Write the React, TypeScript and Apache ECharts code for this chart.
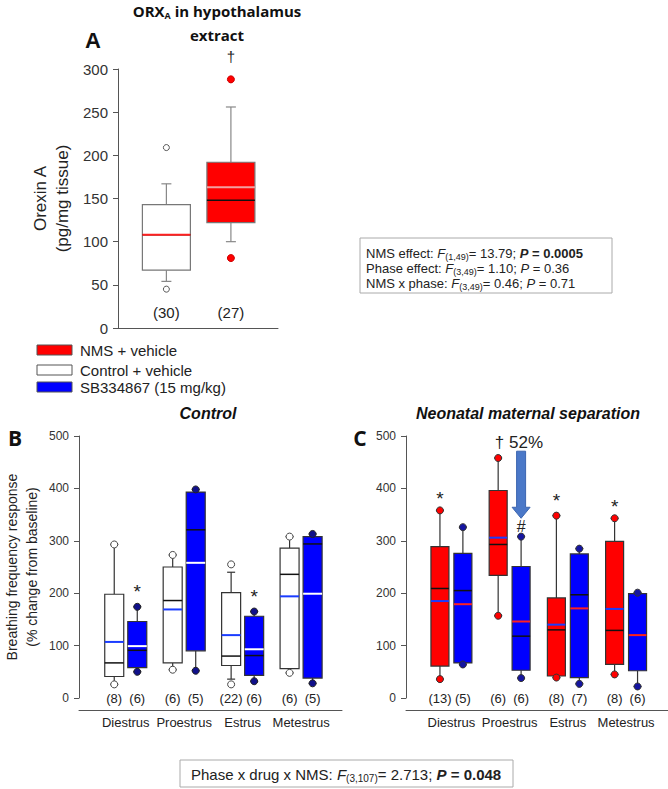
import React, { useEffect, useRef } from "react";
import * as echarts from "echarts";

// ---------- DATA ----------
const cats = ["Diestrus", "Proestrus", "Estrus", "Metestrus"];

// Panel A: [Control + vehicle, NMS + vehicle]
const aWhiskLo = [54, 100];
const aQ1 = [67, 122];
const aMed = [108, 148];
const aQ3 = [143, 192];
const aWhiskHi = [167, 256];
const aMean = [108, 163];
const aN = [30, 27];
const aCtrlOutliers = [45, 209];
const aNmsOutliers = [81, 288];

// Panel B (Control) vehicle (white) and SB334867 (blue)
const bVehLo = [26, 54, 36, 48];
const bVehQ1 = [41, 67, 62, 56];
const bVehMed = [67, 186, 80, 236];
const bVehQ3 = [198, 250, 201, 286];
const bVehHi = [293, 273, 240, 308];
const bVehMean = [107, 169, 120, 194];
const bVehN = [8, 6, 22, 6];
const bVehPts = [[26, 293], [54, 273], [26, 255], [48, 308]];

const bSbLo = [50, 52, 32, 28];
const bSbQ1 = [58, 90, 43, 38];
const bSbMed = [91, 321, 81, 294];
const bSbQ3 = [146, 393, 156, 308];
const bSbHi = [174, 398, 165, 313];
const bSbMean = [99, 258, 93, 199];
const bSbN = [6, 5, 6, 5];
const bSbPts = [[50, 174], [52, 398], [32, 165], [28, 313]];

// Panel C (NMS) vehicle (red) and SB334867 (blue)
const cVehLo = [36, 157, 39, 45];
const cVehQ1 = [61, 234, 42, 64];
const cVehMed = [209, 293, 130, 129];
const cVehQ3 = [289, 396, 191, 299];
const cVehHi = [358, 458, 348, 343];
const cVehMean = [185, 306, 140, 170];
const cVehN = [13, 6, 8, 8];

const cSbLo = [64, 38, 27, 22];
const cSbQ1 = [67, 53, 39, 52];
const cSbMed = [205, 118, 197, 120];
const cSbQ3 = [276, 251, 275, 199];
const cSbHi = [326, 308, 285, 201];
const cSbMean = [179, 146, 171, 120];
const cSbN = [5, 6, 7, 6];

// annotations: [category, value]
const bSbStars = [[0, 204], [2, 194]];
const cVehStars = [[0, 380], [2, 376], [3, 366]];
const cSbHash = [[1, 327]];
const cDaggerText = [[1, 487]];
const cArrow = [[1, 471, 343]];
const aDagger = [[1, 315]];

const OFF = 0.197;
const FONT = "Liberation Sans";

function buildRows(lo, q1, med, q3, hi, mean, n, shift) {
  return lo.map((_, i) => [i + shift, lo[i], q1[i], med[i], q3[i], hi[i], mean[i], n[i]]);
}

function boxSeries(idx, rows, st) {
  return {
    type: "custom",
    xAxisIndex: idx,
    yAxisIndex: idx,
    clip: false,
    data: rows,
    renderItem: (params, api) => {
      const x = api.value(0);
      const c = (v) => api.coord([x, v]);
      const lo = c(api.value(1));
      const q1 = c(api.value(2));
      const med = c(api.value(3));
      const q3 = c(api.value(4));
      const hi = c(api.value(5));
      const mean = c(api.value(6));
      const lab = c(st.nY);
      const cx = lo[0];
      const hw = st.hw;
      const ch = st.capHw;
      const fill = st.fill(params.dataIndex);
      const children = [
        { type: "line", shape: { x1: cx, y1: q3[1], x2: cx, y2: hi[1] }, style: { stroke: st.whisk, lineWidth: 1.2 } },
        { type: "line", shape: { x1: cx, y1: q1[1], x2: cx, y2: lo[1] }, style: { stroke: st.whisk, lineWidth: 1.2 } },
        { type: "line", shape: { x1: cx - ch, y1: hi[1], x2: cx + ch, y2: hi[1] }, style: { stroke: st.whisk, lineWidth: 1.2 } },
        { type: "line", shape: { x1: cx - ch, y1: lo[1], x2: cx + ch, y2: lo[1] }, style: { stroke: st.whisk, lineWidth: 1.2 } },
        { type: "rect", shape: { x: cx - hw, y: q3[1], width: 2 * hw, height: q1[1] - q3[1] }, style: { fill, stroke: st.stroke, lineWidth: 1.2 } },
        { type: "line", shape: { x1: cx - hw, y1: med[1], x2: cx + hw, y2: med[1] }, style: { stroke: st.medColor, lineWidth: 1.5 } },
        { type: "line", shape: { x1: cx - hw, y1: mean[1], x2: cx + hw, y2: mean[1] }, style: { stroke: st.meanColor(params.dataIndex), lineWidth: 2 } },
        {
          type: "text",
          style: {
            x: cx, y: lab[1], text: "(" + api.value(7) + ")",
            textAlign: "center", textVerticalAlign: "middle",
            fontSize: st.nSize, fontFamily: FONT, fill: "#222",
          },
        },
      ];
      return { type: "group", children };
    },
  };
}

function pointSeries(idx, pts, shift, color, border, size) {
  const data = [];
  pts.forEach((p, i) => p.forEach((v) => data.push([i + shift, v])));
  return {
    type: "scatter",
    xAxisIndex: idx,
    yAxisIndex: idx,
    symbol: "circle",
    symbolSize: size,
    data,
    z: 5,
    itemStyle: { color, borderColor: border, borderWidth: 1, opacity: 1 },
  };
}

function textSeries(idx, pts, shift, text, size) {
  return {
    type: "custom",
    xAxisIndex: idx,
    yAxisIndex: idx,
    clip: false,
    z: 6,
    data: pts.map((p) => [p[0] + shift, p[1]]),
    renderItem: (params, api) => {
      const p = api.coord([api.value(0), api.value(1)]);
      return {
        type: "text",
        style: {
          x: p[0], y: p[1], text, textAlign: "center", textVerticalAlign: "middle",
          fontSize: size, fontFamily: FONT, fill: "#222",
        },
      };
    },
  };
}

function arrowSeries(idx, rows, shift) {
  return {
    type: "custom",
    xAxisIndex: idx,
    yAxisIndex: idx,
    clip: false,
    z: 6,
    data: rows.map((r) => [r[0] + shift, r[1], r[2]]),
    renderItem: (params, api) => {
      const top = api.coord([api.value(0), api.value(1)]);
      const tip = api.coord([api.value(0), api.value(2)]);
      const cx = top[0];
      const hb = tip[1] - 11;
      return {
        type: "polygon",
        shape: {
          points: [
            [cx - 4.5, top[1]], [cx + 4.5, top[1]], [cx + 4.5, hb], [cx + 9, hb],
            [cx, tip[1]], [cx - 9, hb], [cx - 4.5, hb],
          ],
        },
        style: { fill: "#4a78c8", stroke: "#3c66b0", lineWidth: 1 },
      };
    },
  };
}

function yAx(grid, max, interval, labelSize, name, nameGap, nameSize, lh) {
  return {
    gridIndex: grid,
    type: "value",
    min: 0,
    max,
    interval,
    axisLine: { show: true, onZero: false, lineStyle: { color: "#555", width: 1 } },
    axisTick: { show: true, length: 5, lineStyle: { color: "#555" } },
    axisLabel: { fontSize: labelSize, color: "#333", margin: 10, fontFamily: FONT },
    splitLine: { show: false },
    name,
    nameLocation: "middle",
    nameGap,
    nameTextStyle: { fontSize: nameSize, lineHeight: lh, color: "#222", fontFamily: FONT },
  };
}

function xAxCat(grid, min, max) {
  return {
    gridIndex: grid,
    type: "value",
    min,
    max,
    offset: 12,
    axisLine: { show: true, onZero: false, lineStyle: { color: "#555" } },
    axisTick: { show: false },
    splitLine: { show: false },
    axisLabel: {
      customValues: [0, 1, 2, 3],
      formatter: (v) => cats[Math.round(v)] || "",
      fontSize: 13,
      margin: 6,
      color: "#222",
      fontFamily: FONT,
    },
  };
}

const richStats = (size, lh, sub, subLh) => ({
  n: { fontSize: size, lineHeight: lh, fontFamily: FONT, fill: "#222" },
  i: { fontSize: size, lineHeight: lh, fontStyle: "italic", fontFamily: FONT, fill: "#222" },
  b: { fontSize: size, lineHeight: lh, fontWeight: "bold", fontFamily: FONT, fill: "#222" },
  bi: { fontSize: size, lineHeight: lh, fontWeight: "bold", fontStyle: "italic", fontFamily: FONT, fill: "#222" },
  s: { fontSize: sub, lineHeight: subLh, verticalAlign: "bottom", fontFamily: FONT, fill: "#222" },
});

export default function App() {
  const ref = useRef(null);
  useEffect(() => {
    document.body.style.margin = "0";
    const chart = echarts.init(ref.current, null, { renderer: "svg", width: 668, height: 789 });

    const aRows = aWhiskLo.map((_, i) => [i, aWhiskLo[i], aQ1[i], aMed[i], aQ3[i], aWhiskHi[i], aMean[i], aN[i]]);
    const g = (left, top, width, height) => ({ left, top, width, height, containLabel: false, outerBoundsMode: "none" });

    const option = {
      animation: false,
      textStyle: { fontFamily: FONT },
      grid: [g(118, 69, 160, 259), g(79, 436, 263, 262), g(406, 436, 262, 262)],
      xAxis: [
        {
          gridIndex: 0, type: "value", min: -0.75, max: 1.73,
          axisLine: { show: true, onZero: false, lineStyle: { color: "#555" } },
          axisTick: { show: false }, axisLabel: { show: false }, splitLine: { show: false },
        },
        xAxCat(1, -0.8, 3.7),
        xAxCat(2, -0.78, 3.72),
      ],
      yAxis: [
        yAx(0, 300, 50, 15, "Orexin A\n(pg/mg tissue)", 45, 17, 22),
        yAx(1, 500, 100, 12, "Breathing frequency response\n(% change from baseline)", 37, 14, 20),
        yAx(2, 500, 100, 12, "", 40, 12, 14),
      ],
      graphic: [
        {
          type: "text",
          style: {
            x: 217, y: 11, text: "{b|ORX}{s|A}{b| in hypothalamus}",
            textAlign: "center", textVerticalAlign: "middle",
            rich: {
              b: { fontSize: 15, fontWeight: "bold", fontFamily: "Open Sans", lineHeight: 17, fill: "#111" },
              s: { fontSize: 9, fontWeight: "bold", fontFamily: "Open Sans", lineHeight: 10, verticalAlign: "bottom", fill: "#111" },
            },
          },
        },
        {
          type: "text",
          style: {
            x: 217, y: 35, text: "extract", textAlign: "center", textVerticalAlign: "middle",
            fontSize: 15, fontWeight: "bold", fontFamily: "Open Sans", fill: "#111",
          },
        },
        {
          type: "text",
          style: { x: 93, y: 40, text: "A", textAlign: "center", textVerticalAlign: "middle", fontSize: 22, fontWeight: "bold", fontFamily: FONT, fill: "#111" },
        },
        {
          type: "text",
          style: { x: 15, y: 438, text: "B", textAlign: "center", textVerticalAlign: "middle", fontSize: 21, fontWeight: "bold", fontFamily: "Open Sans", fill: "#111" },
        },
        {
          type: "text",
          style: { x: 360, y: 438, text: "C", textAlign: "center", textVerticalAlign: "middle", fontSize: 21, fontWeight: "bold", fontFamily: "Open Sans", fill: "#111" },
        },
        {
          type: "text",
          style: { x: 208, y: 413, text: "Control", textAlign: "center", textVerticalAlign: "middle", fontSize: 16, fontWeight: "bold", fontStyle: "italic", fontFamily: FONT, fill: "#111" },
        },
        {
          type: "text",
          style: { x: 528, y: 413, text: "Neonatal maternal separation", textAlign: "center", textVerticalAlign: "middle", fontSize: 16, fontWeight: "bold", fontStyle: "italic", fontFamily: FONT, fill: "#111" },
        },
        // legend
        { type: "rect", shape: { x: 37, y: 345, width: 35, height: 10 }, style: { fill: "#ff0000", stroke: "#555", lineWidth: 1 } },
        { type: "rect", shape: { x: 37, y: 365, width: 35, height: 10 }, style: { fill: "#ffffff", stroke: "#555", lineWidth: 1 } },
        { type: "rect", shape: { x: 37, y: 382, width: 35, height: 10 }, style: { fill: "#0000ff", stroke: "#555", lineWidth: 1 } },
        { type: "text", style: { x: 80, y: 350, text: "NMS + vehicle", textVerticalAlign: "middle", fontSize: 15, fontFamily: FONT, fill: "#222" } },
        { type: "text", style: { x: 80, y: 370, text: "Control + vehicle", textVerticalAlign: "middle", fontSize: 15, fontFamily: FONT, fill: "#222" } },
        { type: "text", style: { x: 80, y: 387, text: "SB334867 (15 mg/kg)", textVerticalAlign: "middle", fontSize: 15, fontFamily: FONT, fill: "#222" } },
        // stats box
        { type: "rect", shape: { x: 360, y: 238, width: 252, height: 55 }, style: { fill: "#fff", stroke: "#aaa", lineWidth: 1 } },
        {
          type: "text",
          style: {
            x: 366, y: 246,
            text:
              "{n|NMS effect: }{i|F}{s|(1,49)}{n|= 13.79; }{bi|P}{b| = 0.0005}\n" +
              "{n|Phase effect: }{i|F}{s|(3,49)}{n|= 1.10; }{i|P}{n| = 0.36}\n" +
              "{n|NMS x phase: }{i|F}{s|(3,49)}{n|= 0.46; }{i|P}{n| = 0.71}",
            rich: richStats(13, 15, 9, 10),
          },
        },
        // bottom box
        { type: "rect", shape: { x: 180, y: 760, width: 333, height: 27 }, style: { fill: "#fff", stroke: "#aaa", lineWidth: 1 } },
        {
          type: "text",
          style: {
            x: 191, y: 774, textVerticalAlign: "middle",
            text: "{n|Phase x drug x NMS: }{i|F}{s|(3,107)}{n|= 2.713; }{bi|P}{b| = 0.048}",
            rich: richStats(15, 18, 10, 11),
          },
        },
      ],
      series: [
        // Panel A
        boxSeries(0, aRows, {
          hw: 24, capHw: 5, stroke: "#777", whisk: "#888", nY: 18.5, nSize: 15,
          fill: (i) => (i === 0 ? "#ffffff" : "#ff0000"),
          medColor: "#111",
          meanColor: (i) => (i === 0 ? "#ff2020" : "#f2a0a0"),
        }),
        pointSeries(0, [aCtrlOutliers, []], 0, "#ffffff", "#555", 6),
        pointSeries(0, [[], aNmsOutliers], 0, "#ff0000", "#cc0000", 7),
        textSeries(0, aDagger, 0, "\u2020", 15),
        // Panel B
        boxSeries(1, buildRows(bVehLo, bVehQ1, bVehMed, bVehQ3, bVehHi, bVehMean, bVehN, -OFF), {
          hw: 9.5, capHw: 4, stroke: "#333", whisk: "#333", nY: 0, nSize: 13,
          fill: () => "#ffffff", medColor: "#111", meanColor: () => "#1a3cff",
        }),
        boxSeries(1, buildRows(bSbLo, bSbQ1, bSbMed, bSbQ3, bSbHi, bSbMean, bSbN, OFF), {
          hw: 9.5, capHw: 4, stroke: "#333", whisk: "#333", nY: 0, nSize: 13,
          fill: () => "#0000ff", medColor: "#111", meanColor: () => "#ffffff",
        }),
        pointSeries(1, bVehPts, -OFF, "#ffffff", "#444", 7),
        pointSeries(1, bSbPts, OFF, "#10108a", "#222", 7),
        textSeries(1, bSbStars, OFF, "*", 19),
        // Panel C
        boxSeries(2, buildRows(cVehLo, cVehQ1, cVehMed, cVehQ3, cVehHi, cVehMean, cVehN, -OFF), {
          hw: 9, capHw: 4, stroke: "#333", whisk: "#333", nY: 0, nSize: 13,
          fill: () => "#ff0000", medColor: "#111", meanColor: () => "#1a3cff",
        }),
        boxSeries(2, buildRows(cSbLo, cSbQ1, cSbMed, cSbQ3, cSbHi, cSbMean, cSbN, OFF), {
          hw: 9, capHw: 4, stroke: "#333", whisk: "#333", nY: 0, nSize: 13,
          fill: () => "#0000ff", medColor: "#111", meanColor: () => "#ff2020",
        }),
        pointSeries(2, cVehLo.map((v, i) => [v, cVehHi[i]]), -OFF, "#ff0000", "#333", 7),
        pointSeries(2, cSbLo.map((v, i) => [v, cSbHi[i]]), OFF, "#1515a0", "#333", 7),
        textSeries(2, cVehStars, -OFF, "*", 19),
        textSeries(2, cSbHash, OFF, "#", 16),
        textSeries(2, cDaggerText, 0.16, "\u2020 52%", 17),
        arrowSeries(2, cArrow, OFF),
      ],
    };
    chart.setOption(option);
    return () => chart.dispose();
  }, []);
  return <div ref={ref} style={{ width: 668, height: 789 }} />;
}
